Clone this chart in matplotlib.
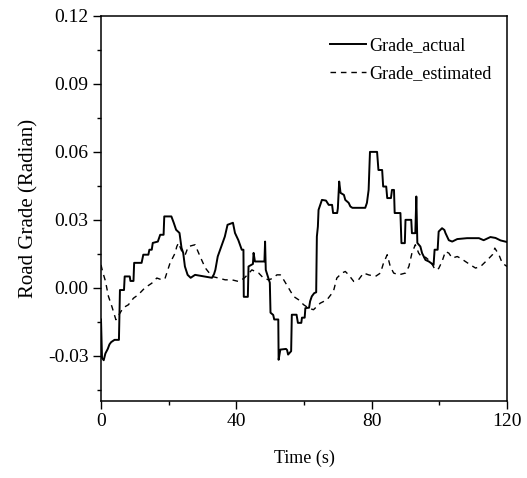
import matplotlib
matplotlib.use("Agg")
import matplotlib.pyplot as plt
from matplotlib.ticker import MultipleLocator, FormatStrFormatter

plt.rcParams['font.family'] = ['Liberation Serif', 'DejaVu Serif']

t_actual = [0, 0.3, 0.8, 1.3, 2, 2.5, 3, 4, 5.3, 5.6, 6.8, 7.0, 8.5, 8.7, 9.6, 9.8, 12, 12.5, 14, 14.3,
            15, 15.3, 16.8, 17.5, 18.5, 18.7, 20.8, 21.5, 22.2, 23.2, 23.8, 24.3, 24.8, 25.6, 26.5, 27.8,
            32.8, 33.4, 33.8, 34.5, 35.4, 36.6, 37.4, 39, 39.6, 40.6, 41.6, 42.1, 42.2, 43.4, 43.6, 44.9,
            45.1, 45.5, 48.3, 48.5, 48.7, 49.9, 50.1, 50.9, 51.2, 52.4, 52.5, 53, 54.7, 55.0, 55.3, 56.2,
            56.4, 57.8, 58.2, 59.2, 59.4, 60.2, 60.4, 61.5, 61.8, 62.3, 63, 63.6, 63.8, 64.1, 64.3, 65.3,
            66.5, 67.3, 68.3, 68.6, 69.8, 70.0, 70.4, 70.8, 71.8, 72.2, 73.2, 73.7, 74.3, 78.1, 78.6, 79.1,
            79.5, 81.6, 82.0, 83.1, 83.4, 84.3, 84.6, 85.7, 86.0, 86.6, 86.8, 88.5, 88.8, 89.8, 90, 91.7,
            91.9, 92.9, 93.2, 93.5, 94.4, 94.9, 95.9, 96.9, 98.3, 98.6, 99.5, 99.8, 100.8, 101.5, 101.8,
            102.8, 103.8, 105.3, 108.2, 111.7, 113.1, 115.1, 116.6, 118.1, 120]
grade_actual = [-0.014, -0.031, -0.032, -0.029, -0.027, -0.025, -0.024, -0.023, -0.023, -0.001, -0.001,
                0.005, 0.005, 0.003, 0.003, 0.011, 0.011, 0.0146, 0.0146, 0.0168, 0.0168, 0.0198, 0.0204,
                0.0234, 0.0234, 0.0315, 0.0315, 0.0287, 0.0256, 0.0242, 0.0176, 0.0154, 0.0094, 0.0057,
                0.0044, 0.0057, 0.0044, 0.006, 0.0079, 0.0138, 0.0176, 0.0226, 0.0278, 0.0287, 0.0242,
                0.021, 0.0168, 0.0168, -0.004, -0.004, 0.0094, 0.0105, 0.0154, 0.0116, 0.0116, 0.0204,
                0.0079, 0.0022, -0.011, -0.012, -0.014, -0.014, -0.0318, -0.0273, -0.027, -0.0275,
                -0.0295, -0.028, -0.0119, -0.0119, -0.0155, -0.0155, -0.0132, -0.0132, -0.009, -0.0088,
                -0.006, -0.0038, -0.0024, -0.002, 0.0226, 0.027, 0.0344, 0.0388, 0.0385, 0.0366, 0.0366,
                0.033, 0.033, 0.035, 0.0469, 0.0419, 0.041, 0.0388, 0.0375, 0.0359, 0.0353, 0.0353,
                0.0375, 0.0432, 0.06, 0.06, 0.052, 0.052, 0.0447, 0.0447, 0.0396, 0.0396, 0.0432, 0.0432,
                0.033, 0.033, 0.0197, 0.0197, 0.03, 0.03, 0.0241, 0.0241, 0.0403, 0.0198, 0.0182, 0.0153,
                0.0123, 0.0116, 0.0101, 0.0168, 0.0168, 0.0248, 0.0263, 0.0255, 0.0242, 0.021, 0.0204,
                0.0215, 0.0219, 0.0219, 0.021, 0.0224, 0.022, 0.0209, 0.0202]

t_est = [0, 0.5, 1.3, 2.2, 3.2, 4.4, 5.6, 6.6, 8.1, 9.6, 11, 13, 15, 16.5, 18, 18.9, 20.4, 21.9, 22.4,
         22.9, 23.9, 24.9, 25.8, 27.8, 29.3, 30.8, 32.8, 34.7, 36.7, 38.7, 40.6, 41.6, 42.5, 44.6, 46.6,
         48, 49.5, 50.5, 52, 53, 54, 55.4, 56.9, 58.4, 59.9, 61.4, 62.8, 64.8, 66.8, 68.7, 69.7, 71.2,
         72.2, 73.2, 74.7, 76.1, 77.6, 79.1, 81.1, 82.6, 83.5, 84.6, 85.5, 86.5, 88, 90, 91, 91.9, 92.9,
         93.9, 95, 95.9, 97.4, 98.8, 99.8, 100.8, 101.8, 102.8, 103.8, 105.3, 106.2, 107.7, 109.2, 110.7,
         112.2, 114.2, 115.7, 116.4, 117.6, 118.6, 120]
grade_est = [0.0101, 0.007, 0.003, -0.0038, -0.0082, -0.0141, -0.0112, -0.0088, -0.0075, -0.0046,
             -0.0031, 0.0, 0.002, 0.0043, 0.0035, 0.004, 0.0109, 0.0153, 0.0182, 0.0198, 0.016, 0.0146,
             0.0182, 0.019, 0.0138, 0.0088, 0.005, 0.0043, 0.0035, 0.0035, 0.0028, 0.0035, 0.0045,
             0.0079, 0.0065, 0.0043, 0.0035, 0.004, 0.0057, 0.0057, 0.0035, 0.0, -0.0038, -0.0053,
             -0.0075, -0.009, -0.0097, -0.0068, -0.0053, -0.0016, 0.0043, 0.0065, 0.0072, 0.0057, 0.0028,
             0.0035, 0.0065, 0.0057, 0.005, 0.0065, 0.0109, 0.0146, 0.0094, 0.0065, 0.0057, 0.0065,
             0.0094, 0.0153, 0.019, 0.0153, 0.0131, 0.0135, 0.0116, 0.0079, 0.0085, 0.0116, 0.016,
             0.0153, 0.0131, 0.0138, 0.0131, 0.0116, 0.0101, 0.0087, 0.0094, 0.0123, 0.0146, 0.0175,
             0.0146, 0.0109, 0.0094]

x_ticks = [0, 40, 80, 120]
y_ticks = [-0.03, 0.00, 0.03, 0.06, 0.09, 0.12]

fig = plt.figure(figsize=(5.27, 4.78), dpi=100)
ax = fig.add_axes([101/527, 1-401/478, 406/527, 385/478])

ax.plot(t_actual, grade_actual, color='black', lw=1.4, label='Grade_actual')
ax.plot(t_est, grade_est, color='black', lw=1.0, linestyle=(0, (4, 3.5)), label='Grade_estimated')

ax.set_xlim(0, 120)
ax.set_ylim(-0.05, 0.12)
ax.set_xticks(x_ticks)
ax.set_yticks(y_ticks)
ax.xaxis.set_minor_locator(MultipleLocator(20))
ax.yaxis.set_minor_locator(MultipleLocator(0.015))
ax.yaxis.set_major_formatter(FormatStrFormatter('%.2f'))
ax.tick_params(which='major', direction='out', length=6, width=1, labelsize=14, pad=3)
ax.tick_params(which='minor', direction='out', length=3, width=1)
for s in ax.spines.values():
    s.set_linewidth(1.1)

ax.set_xlabel('Time (s)', fontsize=13, labelpad=14)
ax.set_ylabel('Road Grade (Radian)', fontsize=15, labelpad=7)

ax.legend(loc='upper left', bbox_to_anchor=(0.564, 0.945), frameon=False, fontsize=13,
          handlelength=2.0, handletextpad=0.15, labelspacing=0.6, borderpad=0, borderaxespad=0)

fig.savefig('out.png', dpi=100)
